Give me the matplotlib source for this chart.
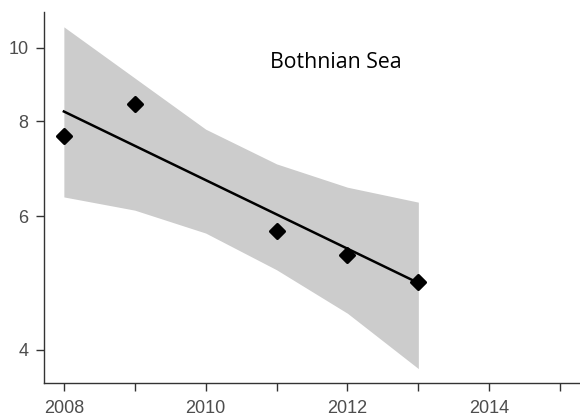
import matplotlib
matplotlib.use("Agg")
import matplotlib.pyplot as plt
from matplotlib.markers import MarkerStyle
from matplotlib.ticker import FixedLocator, NullLocator, FixedFormatter

# Data
years = [2008, 2009, 2011, 2012, 2013]
values = [7.65, 8.43, 5.74, 5.33, 4.91]

band_years = [2008, 2009, 2010, 2011, 2012, 2013]
band_upper = [10.65, 9.12, 7.81, 7.03, 6.55, 6.26]
band_lower = [6.36, 6.11, 5.70, 5.10, 4.47, 3.78]

trend_years = [2008, 2013]
trend_values = [8.24, 4.90]

y_ticks = [4, 6, 8, 10]
x_major = [2008, 2010, 2012, 2014]
x_minor = [2009, 2011, 2013, 2015]
title = "Bothnian Sea"

fig = plt.figure(figsize=(5.8, 4.17), dpi=100)
ax = fig.add_axes([0.0759, 0.0808, 0.9241, 0.8904])

ax.fill_between(band_years, band_lower, band_upper, color="#cccccc", linewidth=0, zorder=1)
ax.plot(trend_years, trend_values, color="black", linewidth=1.8, zorder=2)
ax.plot(years, values, linestyle="none", marker=MarkerStyle("D", joinstyle="round"),
        markersize=7, color="black", markeredgewidth=2.2, zorder=3)

ax.set_yscale("log")
ax.set_ylim(3.615, 11.14)
ax.set_xlim(2007.72, 2015.28)

ax.yaxis.set_major_locator(FixedLocator(y_ticks))
ax.yaxis.set_major_formatter(FixedFormatter([str(v) for v in y_ticks]))
ax.yaxis.set_minor_locator(NullLocator())
ax.xaxis.set_major_locator(FixedLocator(x_major))
ax.xaxis.set_minor_locator(FixedLocator(x_minor))

for s in ["top", "right"]:
    ax.spines[s].set_visible(False)
for s in ["left", "bottom"]:
    ax.spines[s].set_color("#333333")
    ax.spines[s].set_linewidth(1.0)

ax.tick_params(axis="both", which="both", direction="out", length=5.5, width=1,
               color="#333333", labelcolor="#4d4d4d", labelsize=13)
ax.tick_params(axis="x", which="both", pad=6.5)
ax.tick_params(axis="y", which="both", pad=5.5)
for lab in ax.get_xticklabels() + ax.get_yticklabels():
    lab.set_family(["Liberation Sans", "DejaVu Sans"])

ax.text(2010.91, 9.41, title, ha="left", va="baseline", fontsize=15.3,
        family=["Open Sans", "DejaVu Sans"], color="black")

fig.savefig("out.png", dpi=100)
